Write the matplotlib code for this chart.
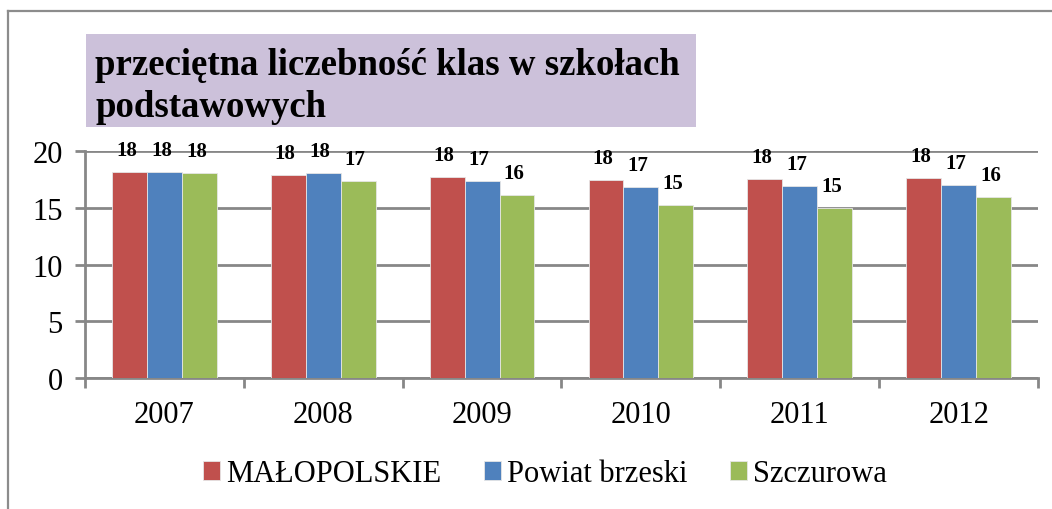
import matplotlib
matplotlib.use("Agg")
import matplotlib.pyplot as plt
from matplotlib.patches import Rectangle
from matplotlib.lines import Line2D
import numpy as np

years = ["2007", "2008", "2009", "2010", "2011", "2012"]
series_names = ["MAŁOPOLSKIE", "Powiat brzeski", "Szczurowa"]
malopolskie = [18.15, 17.9, 17.77, 17.5, 17.59, 17.65]
powiat = [18.2, 18.1, 17.35, 16.88, 16.97, 17.03]
szczurowa = [18.12, 17.35, 16.12, 15.24, 14.97, 16.0]
colors = ["#C0504D", "#4F81BD", "#9BBB59"]
title = "przeciętna liczebność klas w szkołach\npodstawowych"
yticks = [0, 5, 10, 15, 20]

W, H = 1052, 510
fig = plt.figure(figsize=(W / 100, H / 100), dpi=100)
serif = ["Liberation Serif", "DejaVu Serif"]
plt.rcParams["font.family"] = serif

# outer border
fig.add_artist(Line2D([8 / W, 1.0], [1 - 12 / H, 1 - 12 / H], transform=fig.transFigure,
                      color="#8C8C8C", lw=1.6))
fig.add_artist(Line2D([8 / W, 8 / W], [0.0, 1 - 12 / H], transform=fig.transFigure,
                      color="#8C8C8C", lw=1.6))

ax = fig.add_axes([85 / W, (H - 379) / H, (1038 - 85) / W, (379 - 152.3) / H])
x = np.arange(len(years))
bw = 0.22
data = [malopolskie, powiat, szczurowa]
grid_c = "#878787"
for i, (vals, name, c) in enumerate(zip(data, series_names, colors)):
    bars = ax.bar(x + (i - 1) * bw, vals, bw, color=c, label=name,
                  edgecolor="#E6E6E6", linewidth=0.6, zorder=3)
    for b, v in zip(bars, vals):
        ax.annotate(f"{round(v):d}", (b.get_x() + b.get_width() / 2, v),
                    xytext=(-3, 22), textcoords="offset pixels",
                    ha="center", va="center", fontsize=15, fontweight="bold",
                    family=serif, zorder=4)

ax.set_xlim(-0.5, len(years) - 0.5)
ax.set_ylim(0, 20)
ax.set_yticks(yticks)
ax.set_yticklabels([str(t) for t in yticks], fontsize=22)
ax.yaxis.grid(True, color=grid_c, lw=2.0, zorder=0)
ax.set_axisbelow(True)
ax.set_xticks(x)
ax.set_xticklabels(years, fontsize=22)
ax.tick_params(axis="x", which="major", length=0, pad=16)
ax.set_xticks(np.arange(-0.5, len(years), 1.0), minor=True)
ax.tick_params(axis="x", which="minor", length=7, width=2, color=grid_c)
ax.tick_params(axis="y", length=7, width=2, color=grid_c, pad=9)
for s in ["top", "right"]:
    ax.spines[s].set_visible(False)
for s in ["left", "bottom"]:
    ax.spines[s].set_color(grid_c)
    ax.spines[s].set_linewidth(2)

# title box
fig.add_artist(Rectangle((86 / W, 1 - 128 / H), (696 - 86) / W, (128 - 35) / H,
                         transform=fig.transFigure, facecolor="#CCC1DA", edgecolor="none"))
fig.text(95 / W, 1 - 48 / H, title, fontsize=26.5, fontweight="bold", ha="left", va="top",
         linespacing=1.25, family=serif)

leg = fig.legend(loc="center", bbox_to_anchor=(545 / W, 1 - 475 / H), ncol=3, frameon=False,
                 fontsize=22, handlelength=0.55, handleheight=0.55, handletextpad=0.2,
                 columnspacing=1.4)

fig.savefig("out.png", dpi=100)
